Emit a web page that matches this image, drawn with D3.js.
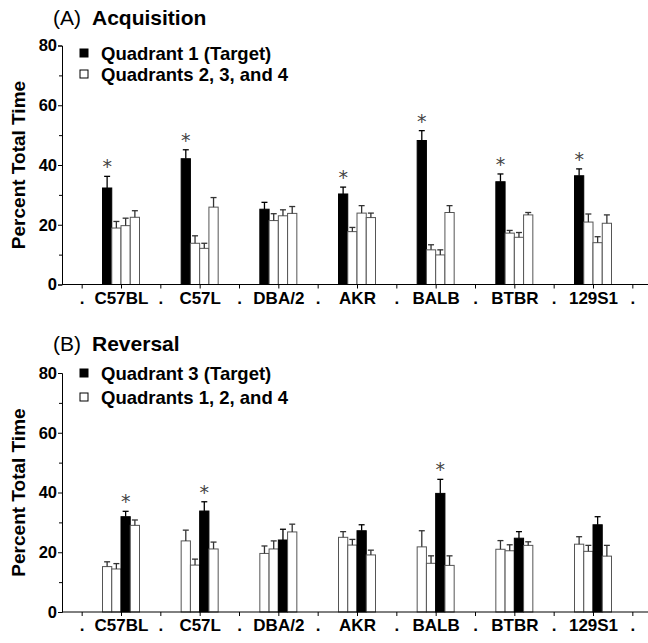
<!DOCTYPE html>
<html>
<head>
<meta charset="utf-8">
<script src="https://cdn.jsdelivr.net/npm/d3@7"></script>
<style>
  body { margin: 0; background: #fff; }
  svg { display: block; font-family: "Liberation Sans", Arial, sans-serif; }
</style>
</head>
<body>
<div id="chart"></div>
<script>
// strains and the x tick labels (dots sit between strains)
var strains = ["C57BL", "C57L", "DBA/2", "AKR", "BALB", "BTBR", "129S1"];
var tickLabels = [".", "C57BL", ".", "C57L", ".", "DBA/2", ".", "AKR", ".", "BALB", ".", "BTBR", ".", "129S1", "."];
var yTicks = [0, 20, 40, 60, 80];
var yMinor = [10, 30, 50, 70];

// (A) acquisition: mean and upper error (SEM) per quadrant
var acqQ1 = [32.3, 42.1, 25.2, 30.3, 48.2, 34.4, 36.4];
var acqQ1Err = [3.9, 3.0, 2.3, 2.3, 3.3, 2.6, 2.3];
var acqQ2 = [18.9, 13.8, 21.4, 17.7, 11.6, 17.2, 20.9];
var acqQ2Err = [2.2, 2.5, 2.3, 1.4, 1.7, 0.9, 2.7];
var acqQ3 = [19.7, 12.1, 23.0, 23.9, 9.9, 15.8, 14.0];
var acqQ3Err = [2.5, 1.7, 2.0, 2.5, 1.7, 1.6, 2.0];
var acqQ4 = [22.5, 25.9, 23.8, 22.4, 24.1, 23.3, 20.5];
var acqQ4Err = [2.2, 3.2, 2.3, 1.5, 2.3, 0.8, 2.8];
var acqSig = [true, true, false, true, true, true, true];

// (B) reversal
var revQ1 = [15.2, 23.8, 19.6, 25.0, 21.8, 21.0, 22.7];
var revQ1Err = [1.6, 3.6, 2.5, 1.9, 5.4, 2.9, 2.5];
var revQ2 = [14.4, 15.7, 21.1, 22.4, 16.3, 20.5, 20.3];
var revQ2Err = [1.8, 2.0, 2.7, 1.9, 2.5, 2.0, 2.0];
var revQ3 = [31.9, 33.8, 24.1, 27.2, 39.7, 24.7, 29.2];
var revQ3Err = [1.8, 3.1, 3.6, 2.0, 4.7, 2.2, 2.7];
var revQ4 = [29.0, 21.1, 26.8, 19.1, 15.6, 22.3, 18.7];
var revQ4Err = [1.8, 2.3, 2.6, 1.6, 3.2, 1.2, 3.6];
var revSig = [true, true, false, false, true, false, false];

var width = 648, height = 643;
var svg = d3.select("#chart").append("svg")
            .attr("width", width)
            .attr("height", height);

var x = d3.scalePoint()
          .domain(d3.range(tickLabels.length))
          .range([62, 652])
          .padding(0.5);
var sub = d3.scaleBand().domain([0, 1, 2, 3]).range([-18.5, 18.5]);

function drawPanel(p){
	var y = d3.scaleLinear().domain([0, 80]).range([p.y0, p.y0 - 239]);
	var g = svg.append("g");

	// title
	g.append("text")
	 .attr("x", 53).attr("y", p.titleY)
	 .style("font-size", "21px")
	 .text(p.letter);
	g.append("text")
	 .attr("x", 92).attr("y", p.titleY)
	 .style("font-size", "21px")
	 .style("font-weight", "bold")
	 .text(p.title);

	// y axis
	var yAxis = g.append("g")
	             .attr("transform", "translate(62,0)")
	             .call(d3.axisLeft(y).tickValues(yTicks).tickSize(4).tickPadding(1));
	yAxis.selectAll("text")
	     .style("font-family", "Liberation Sans, Arial, sans-serif")
	     .style("font-size", "16.5px")
	     .style("font-weight", "bold")
	     .attr("fill", "#000");
	g.append("g")
	 .attr("transform", "translate(62,0)")
	 .call(d3.axisLeft(y).tickValues(yMinor).tickSize(3).tickFormat(""))
	 .select(".domain").remove();

	g.append("text")
	 .attr("transform", "translate(25," + y(40) + ") rotate(-90)")
	 .attr("text-anchor", "middle")
	 .style("font-size", "19px")
	 .style("font-weight", "bold")
	 .text("Percent Total Time");

	// bars
	p.series.forEach(function(s, si){
		var bars = g.append("g");
		bars.selectAll("rect")
		    .data(s.values)
		    .enter()
		    .append("rect")
		    .attr("x", function(d, i){ return x(2 * i + 1) + sub(si); })
		    .attr("width", sub.bandwidth())
		    .attr("y", function(d){ return y(d); })
		    .attr("height", function(d){ return y(0) - y(d); })
		    .style("fill", s.target ? "#000" : "#fff")
		    .style("stroke", s.target ? "#000" : "#555")
		    .style("stroke-width", 1);
		var eb = g.append("g")
		          .style("stroke", s.target ? "#000" : "#333")
		          .style("stroke-width", 1.3);
		s.values.forEach(function(d, i){
			var cx = x(2 * i + 1) + sub(si) + sub.bandwidth() / 2;
			var top = y(d + s.err[i]);
			eb.append("line")
			  .attr("x1", cx).attr("x2", cx)
			  .attr("y1", y(d)).attr("y2", top);
			eb.append("line")
			  .attr("x1", cx - 3).attr("x2", cx + 3)
			  .attr("y1", top).attr("y2", top);
			if (s.target && p.sig[i]) {
				g.append("text")
				 .attr("x", cx)
				 .attr("y", top - 15 + 12)
				 .attr("text-anchor", "middle")
				 .style("font-family", "DejaVu Sans, sans-serif")
				 .style("font-size", "19px")
				 .style("fill", "#444")
				 .text("*");
			}
		});
	});

	// x axis
	var xAxis = g.append("g")
	             .attr("transform", "translate(0," + p.y0 + ")")
	             .call(d3.axisBottom(x).tickSize(4).tickPadding(3)
	                     .tickFormat(function(d){ return tickLabels[d]; }));
	xAxis.select(".domain").attr("d", "M62,0H652");
	xAxis.selectAll("text")
	     .style("font-family", "Liberation Sans, Arial, sans-serif")
	     .style("font-size", "17px")
	     .style("font-weight", "bold")
	     .attr("fill", "#000");

	// legend
	p.legend.forEach(function(l, li){
		var ly = p.legendY[li];
		g.append("rect")
		 .attr("x", 80).attr("y", ly - 4)
		 .attr("width", 8).attr("height", 8)
		 .style("fill", l.target ? "#000" : "#fff")
		 .style("stroke", "#000")
		 .style("stroke-width", 1);
		g.append("text")
		 .attr("x", 101).attr("y", ly + 6.5)
		 .style("font-size", "18.5px")
		 .style("font-weight", "bold")
		 .text(l.label);
	});
}

drawPanel({
	letter: "(A)", title: "Acquisition", titleY: 25, y0: 284.5,
	legendY: [53, 74],
	legend: [{label: "Quadrant 1 (Target)", target: true},
	         {label: "Quadrants 2, 3, and 4", target: false}],
	sig: acqSig,
	series: [{values: acqQ1, err: acqQ1Err, target: true},
	         {values: acqQ2, err: acqQ2Err, target: false},
	         {values: acqQ3, err: acqQ3Err, target: false},
	         {values: acqQ4, err: acqQ4Err, target: false}]
});

drawPanel({
	letter: "(B)", title: "Reversal", titleY: 351, y0: 612,
	legendY: [373, 397],
	legend: [{label: "Quadrant 3 (Target)", target: true},
	         {label: "Quadrants 1, 2, and 4", target: false}],
	sig: revSig,
	series: [{values: revQ1, err: revQ1Err, target: false},
	         {values: revQ2, err: revQ2Err, target: false},
	         {values: revQ3, err: revQ3Err, target: true},
	         {values: revQ4, err: revQ4Err, target: false}]
});
</script>
</body>
</html>
